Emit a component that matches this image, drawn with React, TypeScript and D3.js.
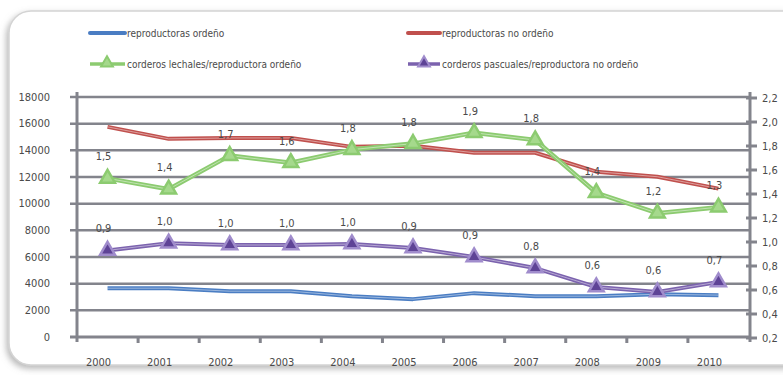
import * as d3 from "d3";

const years = ["2000", "2001", "2002", "2003", "2004", "2005", "2006", "2007", "2008", "2009", "2010"];
const reproOrdeno = [3660, 3660, 3435, 3435, 3060, 2840, 3290, 3060, 3060, 3210, 3140];
const reproNoOrdeno = [15760, 14860, 14930, 14930, 14260, 14340, 13820, 13820, 12400, 12020, 11130];
const corderosLechales = [1.53, 1.44, 1.72, 1.66, 1.77, 1.82, 1.91, 1.85, 1.41, 1.24, 1.29];
const lechalesLabels = ["1,5", "1,4", "1,7", "1,6", "1,8", "1,8", "1,9", "1,8", "1,4", "1,2", "1,3"];
const corderosPascuales = [0.93, 0.99, 0.975, 0.975, 0.983, 0.95, 0.875, 0.783, 0.625, 0.583, 0.667];
const pascualesLabels = ["0,9", "1,0", "1,0", "1,0", "1,0", "0,9", "0,9", "0,8", "0,6", "0,6", "0,7"];
const leftTicks = [0, 2000, 4000, 6000, 8000, 10000, 12000, 14000, 16000, 18000];
const rightTicks = [0.2, 0.4, 0.6, 0.8, 1.0, 1.2, 1.4, 1.6, 1.8, 2.0, 2.2];

const FONT = "'Liberation Sans Narrow', 'DejaVu Sans Condensed', 'Liberation Sans', sans-serif";
const GRID = "#83848c";
const TEXT = "#4a4a4a";
const BLUE = "#4a7dc3";
const RED = "#c0504d";
const GREEN = "#8ccb70";
const PURPLE = "#7b62ae";

export default function App() {
  const W = 783;
  const H = 375;
  const x = d3.scaleBand<string>().domain(years).range([77, 749]).padding(0);
  const yL = d3.scaleLinear().domain([0, 18000]).range([337, 97]);
  const yR = d3.scaleLinear().domain([0.2, 2.2]).range([338, 98]);
  const cx = (i: number) => (x(years[i]) as number) + x.bandwidth() / 2;

  const lineL = d3.line<number>().x((_d, i) => cx(i)).y((d) => yL(d));
  const lineR = d3.line<number>().x((_d, i) => cx(i)).y((d) => yR(d));
  const tri = d3.symbol(d3.symbolTriangle, 95)() as string;
  const triSmall = d3.symbol(d3.symbolTriangle, 60)() as string;

  const drawLine = (d: string, color: string, w: number, key: string) => (
    <g key={key}>
      <path d={d} fill="none" stroke={color} strokeWidth={w} strokeLinejoin="round" />
      <path d={d} fill="none" stroke="#ffffff" strokeOpacity={0.45} strokeWidth={1} strokeLinejoin="round" />
    </g>
  );

  return (
    <div style={{ position: "absolute", left: 0, top: 0 }}>
      <svg width={W} height={H} style={{ display: "block", fontFamily: FONT }}>
        <defs>
          <filter id="shadow" x="-10%" y="-10%" width="120%" height="130%">
            <feDropShadow dx={-2} dy={3} stdDeviation={3} floodColor="#888" floodOpacity={0.6} />
          </filter>
        </defs>
        <rect x={0} y={0} width={W} height={H} fill="#ffffff" />
        <rect x={9} y={11} width={800} height={354} rx={22} fill="#ffffff" stroke="#d4d4d4" strokeWidth={1.5} filter="url(#shadow)" />

        {/* legend */}
        <g fontSize={10} fill={TEXT}>
          <line x1={90} x2={125} y1={33} y2={33} stroke={BLUE} strokeWidth={4} strokeLinecap="round" />
          <text x={127} y={36.5}>reproductoras ordeño</text>
          <line x1={408} x2={440} y1={33} y2={33} stroke={RED} strokeWidth={4} strokeLinecap="round" />
          <text x={442} y={36.5}>reproductoras no ordeño</text>
          <line x1={90} x2={125} y1={64} y2={64} stroke={GREEN} strokeWidth={3.5} />
          <path d={triSmall} transform="translate(107,63)" fill="#a5d98c" stroke={GREEN} strokeWidth={2} />
          <text x={127} y={67.5}>corderos lechales/reproductora ordeño</text>
          <line x1={408} x2={440} y1={64} y2={64} stroke={PURPLE} strokeWidth={3.5} />
          <path d={triSmall} transform="translate(424,63)" fill="#5e4396" stroke="#a08ccc" strokeWidth={2} />
          <text x={442} y={67.5}>corderos pascuales/reproductora no ordeño</text>
        </g>

        {/* gridlines and left axis */}
        {leftTicks.map((t) => (
          <g key={"l" + t}>
            <line x1={70} x2={750} y1={yL(t)} y2={yL(t)} stroke={GRID} strokeWidth={t === 0 ? 3 : 2.5} />
            <text x={50} y={yL(t) + 3.5} textAnchor="end" fontSize={11} fill={TEXT}>{t}</text>
          </g>
        ))}
        <line x1={77} x2={77} y1={92} y2={342} stroke={GRID} strokeWidth={3} />
        <line x1={750} x2={750} y1={92} y2={342} stroke={GRID} strokeWidth={3} />

        {/* right axis */}
        {rightTicks.map((t) => (
          <g key={"r" + t}>
            <line x1={746} x2={757} y1={yR(t)} y2={yR(t)} stroke={GRID} strokeWidth={3} />
            <text x={762} y={yR(t) + 3.5} fontSize={11} fill={TEXT}>{t.toFixed(1).replace(".", ",")}</text>
          </g>
        ))}

        {/* x axis ticks and labels */}
        {years.map((yr, i) => (
          <g key={yr}>
            {i > 0 && <line x1={x(yr) as number} x2={x(yr) as number} y1={337} y2={343} stroke={GRID} strokeWidth={3} />}
            <text x={cx(i) - 9} y={366} textAnchor="middle" fontSize={11} fill={TEXT}>{yr}</text>
          </g>
        ))}

        {/* series */}
        {drawLine(lineL(reproNoOrdeno) as string, RED, 4, "red")}
        {drawLine(lineL(reproOrdeno) as string, BLUE, 4, "blue")}
        {drawLine(lineR(corderosPascuales) as string, PURPLE, 4, "purple")}
        {drawLine(lineR(corderosLechales) as string, GREEN, 4.5, "green")}

        {corderosPascuales.map((v, i) => (
          <g key={"pm" + i}>
            <path d={tri} transform={`translate(${cx(i)},${yR(v)})`} fill="#5e4396" stroke="#a08ccc" strokeWidth={2.5} />
            <text x={cx(i) - 4} y={yR(v) - 18} textAnchor="middle" fontSize={11} fill={TEXT}>{pascualesLabels[i]}</text>
          </g>
        ))}
        {corderosLechales.map((v, i) => (
          <g key={"gm" + i}>
            <path d={tri} transform={`translate(${cx(i)},${yR(v)})`} fill="#a5d98c" stroke={GREEN} strokeWidth={2.5} />
            <text x={cx(i) - 4} y={yR(v) - 18} textAnchor="middle" fontSize={11} fill={TEXT}>{lechalesLabels[i]}</text>
          </g>
        ))}
      </svg>
    </div>
  );
}
